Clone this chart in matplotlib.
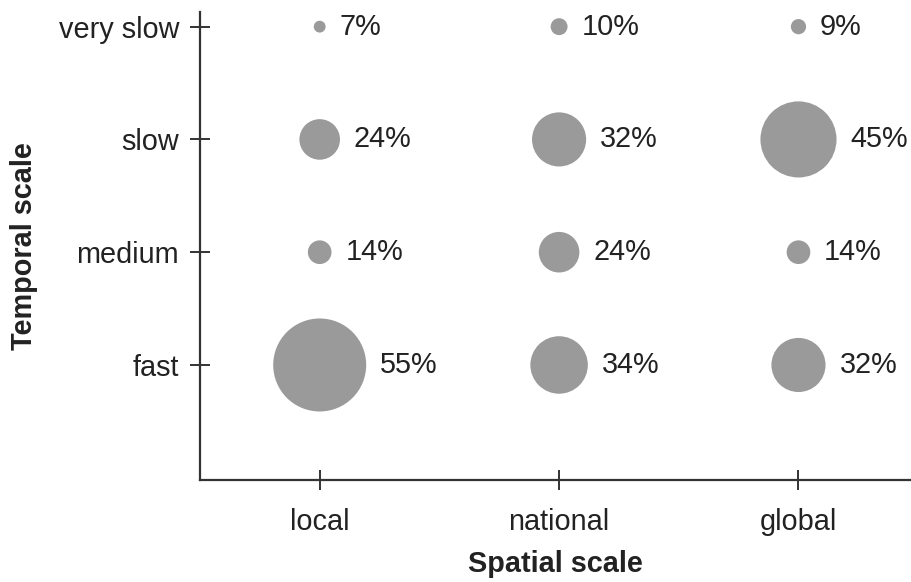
import numpy as np
import matplotlib
matplotlib.use("Agg")
import matplotlib.pyplot as plt

plt.rcParams['font.family'] = ['Liberation Sans', 'DejaVu Sans']

spatial = ["local", "national", "global"]
temporal = ["fast", "medium", "slow", "very slow"]
# percentages, rows = temporal (fast -> very slow), cols = spatial
pct = [
    [55, 34, 32],
    [14, 24, 14],
    [24, 32, 45],
    [7, 10, 9],
]

dpi = 100
fig = plt.figure(figsize=(9.11, 5.82), dpi=dpi)
ax = fig.add_axes([200/911, 102/582, 1 - 200/911, 468/582])

px_per_pct = 93 / 55  # bubble diameter in pixels per percent
for i, row in enumerate(pct):
    for j, v in enumerate(row):
        d_pt = v * px_per_pct * 72 / dpi
        ax.scatter(j, i, s=d_pt**2, color="#9a9a9a", edgecolors="none", zorder=3)
        ax.annotate(f"{v}%", (j, i), xytext=(d_pt/2 + 10, 0), textcoords="offset points",
                    ha="left", va="center", fontsize=20.8, color="#222222")

ax.set_xlim(-0.5, 2.47)
ax.set_ylim(-1.02, 3.13)
ax.set_xticks(range(len(spatial)))
ax.set_xticklabels(spatial)
ax.set_yticks(range(len(temporal)))
ax.set_yticklabels(temporal)

for s in ["top", "right"]:
    ax.spines[s].set_visible(False)
for s in ["left", "bottom"]:
    ax.spines[s].set_linewidth(1.6)
    ax.spines[s].set_color("#333333")
ax.tick_params(direction="inout", length=14, width=1.4, color="#333333",
               labelsize=20.8, labelcolor="#222222", pad=8)
ax.tick_params(axis="x", pad=13)

ax.set_xlabel("Spatial scale", fontsize=20.8, fontweight="bold", color="#222222", labelpad=10)
ax.set_ylabel("Temporal scale", fontsize=20.8, fontweight="bold", color="#222222", labelpad=15)

fig.savefig("out.png", dpi=dpi)
